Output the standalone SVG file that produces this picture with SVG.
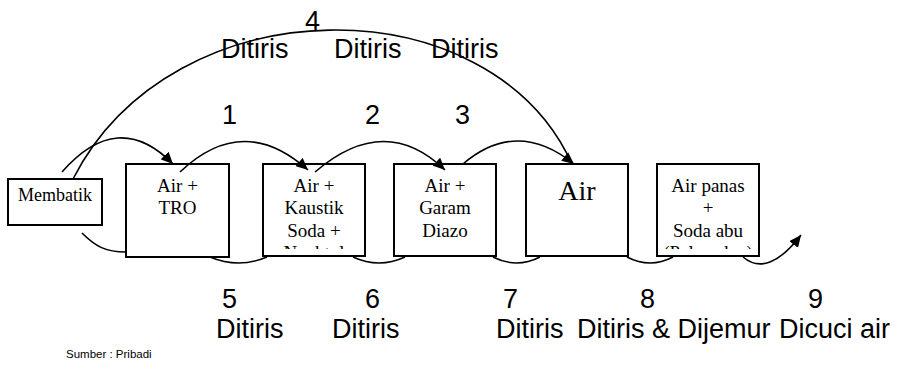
<svg xmlns="http://www.w3.org/2000/svg" width="902" height="369" viewBox="0 0 902 369">
  <style>
    .box { fill: #ffffff; stroke: #000000; stroke-width: 2; }
    .node-text { font-family: "Liberation Serif", "Times New Roman", serif; font-size: 19px; fill: #000000; text-anchor: middle; }
    .label { font-family: "Liberation Sans", Arial, sans-serif; font-size: 27px; fill: #000000; }
    .note { font-family: "Liberation Sans", Arial, sans-serif; font-size: 11.5px; fill: #000000; }
    .wire { fill: none; stroke: #000000; stroke-width: 1.6; }
  </style>
  <defs>
    <marker id="arrow" markerUnits="userSpaceOnUse" markerWidth="13" markerHeight="11" refX="12" refY="5.5" orient="auto">
      <path d="M0,0 L12,5.5 L0,11 z" fill="#000000"/>
    </marker>
    <clipPath id="clip-soda"><rect x="264" y="165" width="100" height="84"/></clipPath>
    <clipPath id="clip-panas"><rect x="658" y="165" width="100" height="84"/></clipPath>
  </defs>

  <rect width="902" height="369" fill="#ffffff"/>

  <!-- process steps -->
  <g id="membatik">
    <rect class="box" x="8" y="179" width="94" height="46"/>
    <text class="node-text" x="55" y="201" style="font-size:18px">Membatik</text>
  </g>
  <g id="air-tro">
    <rect class="box" x="126" y="164" width="103" height="93"/>
    <text class="node-text" x="177.5" y="192">Air +</text>
    <text class="node-text" x="177.5" y="214">TRO</text>
  </g>
  <g id="air-kaustik">
    <rect class="box" x="263" y="164" width="102" height="92"/>
    <g clip-path="url(#clip-soda)">
      <text class="node-text" x="314" y="192">Air +</text>
      <text class="node-text" x="314" y="214">Kaustik</text>
      <text class="node-text" x="314" y="237">Soda +</text>
      <text class="node-text" x="314" y="259">Naphtol</text>
    </g>
  </g>
  <g id="air-garam">
    <rect class="box" x="394" y="164" width="102" height="92"/>
    <text class="node-text" x="445" y="192">Air +</text>
    <text class="node-text" x="445" y="214">Garam</text>
    <text class="node-text" x="445" y="237">Diazo</text>
  </g>
  <g id="air">
    <rect class="box" x="526" y="164" width="102" height="92"/>
    <text class="node-text" x="577" y="200" style="font-size:28px">Air</text>
  </g>
  <g id="air-panas">
    <rect class="box" x="657" y="164" width="102" height="92"/>
    <g clip-path="url(#clip-panas)">
      <text class="node-text" x="708" y="192">Air panas</text>
      <text class="node-text" x="708" y="214">+</text>
      <text class="node-text" x="708" y="237">Soda abu</text>
      <text class="node-text" x="708" y="259">(Pelorodan)</text>
    </g>
  </g>

  <!-- connectors -->
  <g id="connectors">
    <!-- upper hops -->
    <path class="wire" d="M62,172 Q118,108 173,164" marker-end="url(#arrow)"/>
    <path class="wire" d="M180,172 Q243,112 308,170" marker-end="url(#arrow)"/>
    <path class="wire" d="M315,172 Q385,112 445,170" marker-end="url(#arrow)"/>
    <path class="wire" d="M463,164 Q517,118 574,164" marker-end="url(#arrow)"/>
    <!-- long hop over the top -->
    <path class="wire" d="M73,179 C173,-17 490,-17 572,164"/>
    <!-- lower hops -->
    <path class="wire" d="M82,233 C95,246 105,252 126,252"/>
    <path class="wire" d="M210,257 Q238.5,269 267,257"/>
    <path class="wire" d="M353,257 Q379,269 405,257"/>
    <path class="wire" d="M493,257 Q516.5,269 540,257"/>
    <path class="wire" d="M627,257 Q650,269 673,257"/>
    <path class="wire" d="M743,257 Q768,278 801,235" marker-end="url(#arrow)"/>
  </g>

  <!-- step labels -->
  <g id="labels">
    <text class="label" x="305" y="30">4</text>
    <text class="label" x="221" y="58">Ditiris</text>
    <text class="label" x="334" y="58">Ditiris</text>
    <text class="label" x="431" y="58">Ditiris</text>
    <text class="label" x="222" y="124">1</text>
    <text class="label" x="365" y="124">2</text>
    <text class="label" x="455" y="124">3</text>
    <text class="label" x="222" y="308">5</text>
    <text class="label" x="365" y="308">6</text>
    <text class="label" x="503" y="308">7</text>
    <text class="label" x="640" y="308">8</text>
    <text class="label" x="808" y="308">9</text>
    <text class="label" x="216" y="338">Ditiris</text>
    <text class="label" x="332" y="338">Ditiris</text>
    <text class="label" x="496" y="338">Ditiris</text>
    <text class="label" x="577" y="338">Ditiris &amp; Dijemur</text>
    <text class="label" x="779" y="338">Dicuci air</text>
  </g>
  <text class="note" x="66" y="358">Sumber : Pribadi</text>
</svg>
